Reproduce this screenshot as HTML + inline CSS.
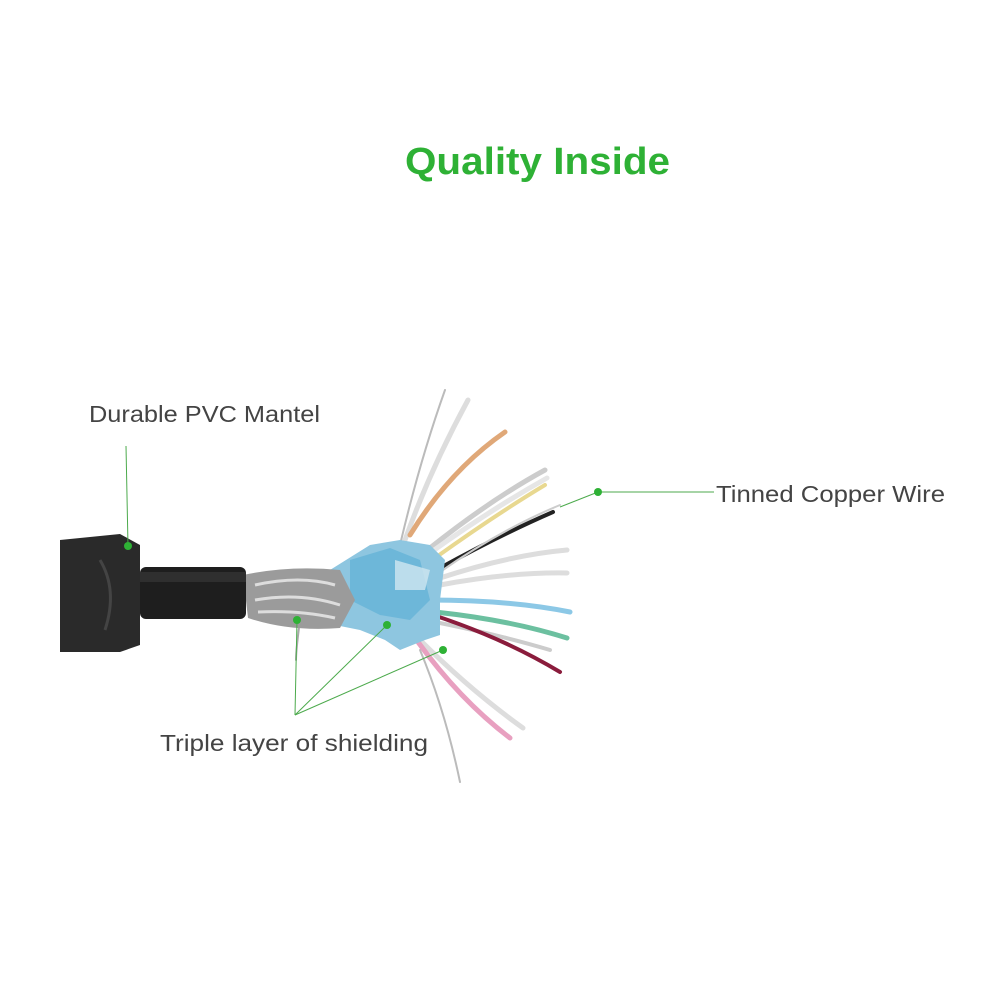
<!DOCTYPE html>
<html><head><style>
body{margin:0;background:#fff;width:1000px;height:1000px;overflow:hidden;font-family:"Liberation Sans",sans-serif}
</style></head><body>
<svg width="1000" height="1000" viewBox="0 0 1000 1000" xmlns="http://www.w3.org/2000/svg">
<text x="405" y="174" textLength="265" lengthAdjust="spacingAndGlyphs" font-family="Liberation Sans, sans-serif" font-weight="bold" font-size="38" fill="#2eb135">Quality Inside</text>
<text x="89" y="422" textLength="231" lengthAdjust="spacingAndGlyphs" font-family="Liberation Sans, sans-serif" font-size="23" fill="#444">Durable PVC Mantel</text>
<text x="716" y="502" textLength="229" lengthAdjust="spacingAndGlyphs" font-family="Liberation Sans, sans-serif" font-size="23" fill="#444">Tinned Copper Wire</text>
<text x="160" y="751" textLength="268" lengthAdjust="spacingAndGlyphs" font-family="Liberation Sans, sans-serif" font-size="23" fill="#444">Triple layer of shielding</text>
<g fill="none" stroke-linecap="round">
<path d="M400 545 Q420 460 445 390" stroke="#bbb" stroke-width="2"/>
<path d="M405 540 Q430 470 468 400" stroke="#ddd" stroke-width="5"/>
<path d="M410 535 Q450 470 505 432" stroke="#e0a878" stroke-width="5"/>
<path d="M430 548 Q490 500 545 470" stroke="#ccc" stroke-width="5"/>
<path d="M430 553 Q490 510 547 478" stroke="#e6e6e6" stroke-width="5"/>
<path d="M435 558 Q495 515 545 485" stroke="#e8d890" stroke-width="4"/>
<path d="M440 568 Q500 535 553 512" stroke="#222" stroke-width="4"/>
<path d="M440 572 Q500 530 560 505" stroke="#ccc" stroke-width="2"/>
<path d="M440 578 Q510 555 567 550" stroke="#ddd" stroke-width="5"/>
<path d="M440 585 Q510 572 567 573" stroke="#ddd" stroke-width="5"/>
<path d="M430 600 Q510 600 570 612" stroke="#8cc8e6" stroke-width="5"/>
<path d="M435 612 Q510 620 567 638" stroke="#6cc0a0" stroke-width="5"/>
<path d="M435 622 Q500 635 550 650" stroke="#ccc" stroke-width="4"/>
<path d="M400 605 Q490 630 560 672" stroke="#8a1c3c" stroke-width="4"/>
<path d="M420 640 Q470 690 523 728" stroke="#ddd" stroke-width="5"/>
<path d="M418 642 Q460 700 510 738" stroke="#e8a0c0" stroke-width="5"/>
<path d="M420 650 Q445 710 460 782" stroke="#bbb" stroke-width="2"/>
<path d="M300 620 Q296 650 296 660" stroke="#aaa" stroke-width="2"/>
</g>
<path d="M330 570 L370 545 L400 540 L430 545 L445 560 L440 600 L440 635 L425 640 L400 650 L385 640 L360 630 L335 625 Z" fill="#8ec6e0"/>
<path d="M350 560 L390 548 L420 560 L430 600 L410 620 L380 615 L350 600 Z" fill="#5fb0d6" opacity="0.7"/>
<path d="M395 560 L430 570 L425 590 L395 590 Z" fill="#cfe6f0" opacity="0.8"/>
<path d="M243 575 Q290 565 340 570 L355 600 L340 628 Q290 632 248 618 Z" fill="#9b9b9b"/>
<path d="M255 585 Q300 575 335 585 M255 600 Q300 592 340 605 M258 612 Q300 610 335 618" stroke="#ddd" stroke-width="3" fill="none"/>
<rect x="140" y="567" width="106" height="52" rx="6" fill="#1e1e1e"/>
<rect x="140" y="572" width="106" height="10" fill="#3a3a3a" opacity="0.6"/>
<path d="M60 540 L120 534 L140 545 L140 645 L120 652 L60 652 Z" fill="#2a2a2a"/>
<path d="M100 560 Q118 590 105 630" stroke="#444" stroke-width="3" fill="none"/>
<g stroke="#4caa4c" stroke-width="1" fill="none">
<line x1="126" y1="446" x2="128" y2="546"/>
<line x1="598" y1="492" x2="714" y2="492"/>
<line x1="598" y1="492" x2="560" y2="507"/>
<line x1="297" y1="620" x2="295" y2="715"/>
<line x1="387" y1="625" x2="295" y2="715"/>
<line x1="443" y1="650" x2="295" y2="715"/>
</g>
<g fill="#2eb135">
<circle cx="128" cy="546" r="4"/>
<circle cx="598" cy="492" r="4"/>
<circle cx="297" cy="620" r="4"/>
<circle cx="387" cy="625" r="4"/>
<circle cx="443" cy="650" r="4"/>
</g>
</svg>
</body></html>
